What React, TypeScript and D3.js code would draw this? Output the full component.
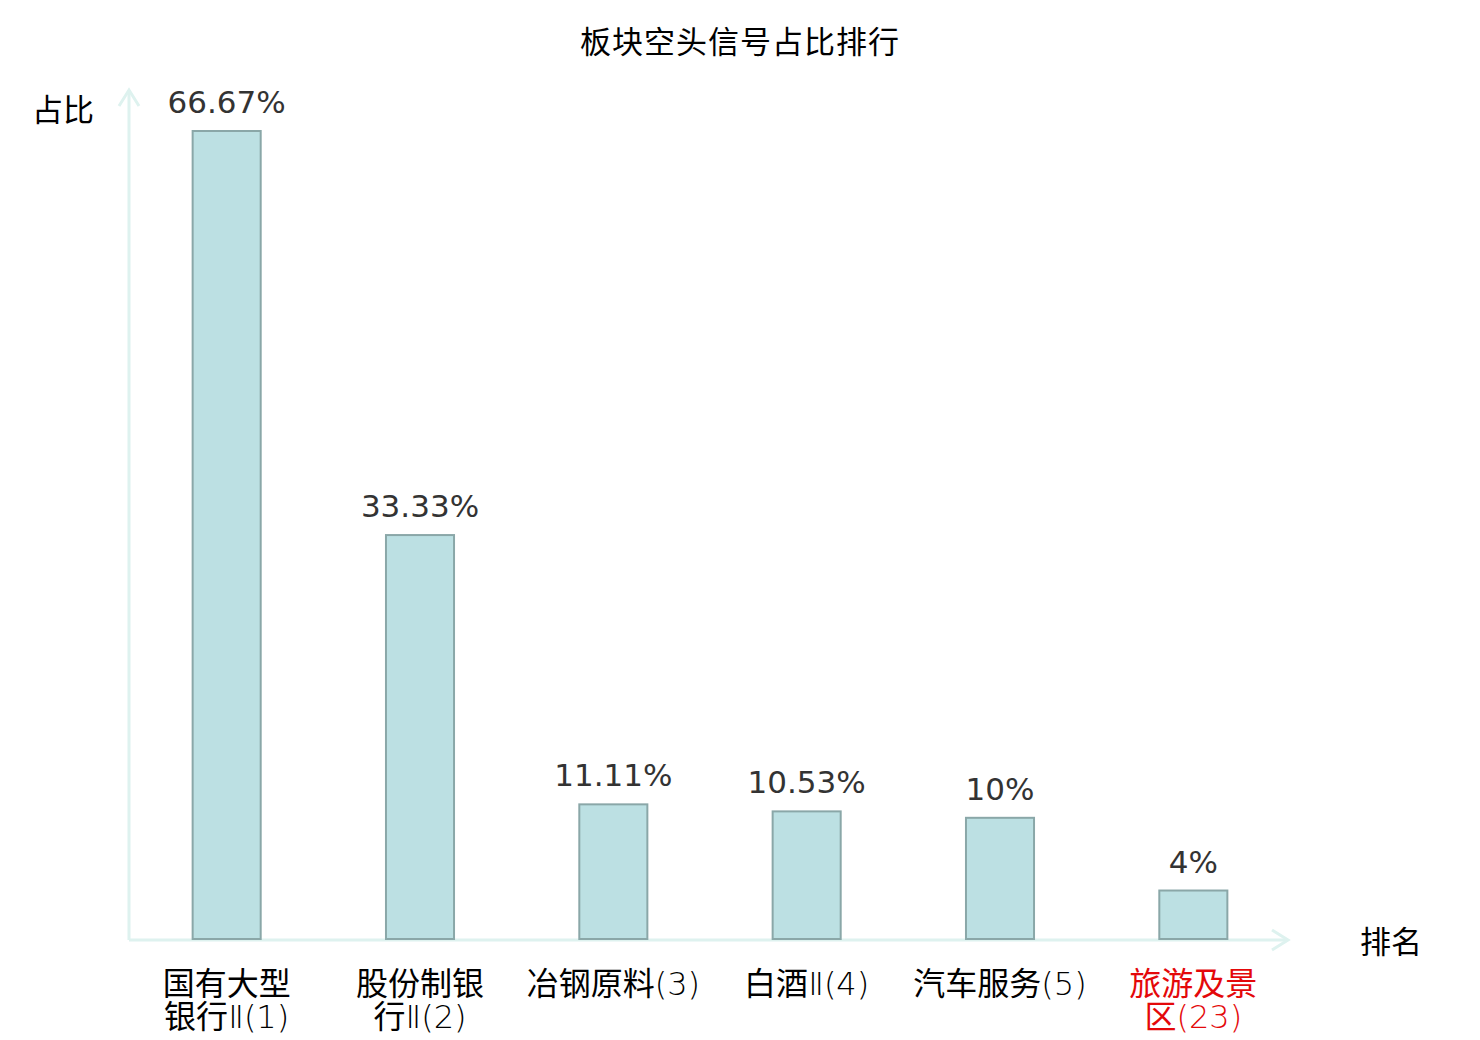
import React, { useEffect, useRef } from 'react';
import * as d3 from 'd3';

const categories = ['国有大型银行Ⅱ(1)', '股份制银行Ⅱ(2)', '冶钢原料(3)', '白酒Ⅱ(4)', '汽车服务(5)', '旅游及景区(23)'];
// category labels as they wrap onto lines
const labelLines = [
  ['国有大型', '银行Ⅱ(1)'],
  ['股份制银', '行Ⅱ(2)'],
  ['冶钢原料(3)'],
  ['白酒Ⅱ(4)'],
  ['汽车服务(5)'],
  ['旅游及景', '区(23)'],
];
const values = [66.67, 33.33, 11.11, 10.53, 10, 4];
const valueLabels = ['66.67%', '33.33%', '11.11%', '10.53%', '10%', '4%'];
const highlighted = ['旅游及景区(23)'];

// split a label into CJK and latin runs so each gets its own face
const splitRuns = (s: string) => s.match(/[\u4e00-\u9fff]+|[^\u4e00-\u9fff]+/g) || [];

const App: React.FC = () => {
  const ref = useRef<SVGSVGElement | null>(null);

  useEffect(() => {
    if (!ref.current) return;
    const svg = d3.select(ref.current);
    svg.selectAll('*').remove();

    const W = 1480, H = 1040;
    const x0 = 130, x1 = 1290, yBase = 939, yTop = 131;
    const cjk = "'Noto Sans CJK SC', sans-serif";

    const x = d3.scaleBand().domain(categories).range([x0, x1]).padding(0);
    const y = d3.scaleLinear().domain([0, d3.max(values) as number]).range([yBase, yTop]);
    const barW = x.bandwidth() * 0.352;

    svg.attr('width', W).attr('height', H);

    svg.append('text')
      .attr('x', 740).attr('y', 53)
      .attr('text-anchor', 'middle')
      .attr('font-family', cjk)
      .attr('font-size', 31)
      .attr('letter-spacing', 1)
      .attr('fill', '#000')
      .text('板块空头信号占比排行');

    // axes with open arrow heads
    const axisColor = '#def2ef';
    const axes = svg.append('g').attr('stroke', axisColor).attr('stroke-width', 3).attr('fill', 'none');
    axes.append('line').attr('x1', 129).attr('y1', 940).attr('x2', 129).attr('y2', 90);
    axes.append('path').attr('d', 'M119,106 L129,90 L139,106');
    axes.append('line').attr('x1', 129).attr('y1', 940).attr('x2', 1288).attr('y2', 940);
    axes.append('path').attr('d', 'M1272,930 L1288,940 L1272,950');

    svg.append('text')
      .attr('x', 63).attr('y', 121)
      .attr('text-anchor', 'middle')
      .attr('font-family', cjk).attr('font-size', 31)
      .text('占比');
    svg.append('text')
      .attr('x', 1391).attr('y', 953)
      .attr('text-anchor', 'middle')
      .attr('font-family', cjk).attr('font-size', 31)
      .text('排名');

    const bars = svg.append('g')
      .selectAll('g')
      .data(categories)
      .join('g');

    bars.append('rect')
      .attr('x', (d) => (x(d) as number) + x.bandwidth() / 2 - barW / 2)
      .attr('y', (d, i) => y(values[i]))
      .attr('width', barW)
      .attr('height', (d, i) => yBase - y(values[i]))
      .attr('fill', '#bce0e3')
      .attr('stroke', '#8aa7a8')
      .attr('stroke-width', 2);

    bars.append('text')
      .attr('x', (d) => (x(d) as number) + x.bandwidth() / 2)
      .attr('y', (d, i) => y(values[i]) - 18)
      .attr('text-anchor', 'middle')
      .attr('font-family', "'DejaVu Sans', sans-serif")
      .attr('font-size', 31)
      .attr('fill', '#333')
      .text((d, i) => valueLabels[i]);

    // one <text> per label line, with runs in separate tspans
    const lineData = categories.flatMap((c, i) =>
      labelLines[i].map((t, j) => ({ c, t, j, cx: (x(c) as number) + x.bandwidth() / 2 })));

    const lines = svg.append('g')
      .selectAll('text')
      .data(lineData)
      .join('text')
      .attr('x', (d) => d.cx)
      .attr('y', (d) => 995 + d.j * 33)
      .attr('text-anchor', 'middle')
      .attr('font-size', 32)
      .attr('fill', (d) => (highlighted.includes(d.c) ? '#e4080a' : '#000'));

    lines.selectAll('tspan')
      .data((d) => splitRuns(d.t))
      .join('tspan')
      .attr('font-family', (r) => (/[\u4e00-\u9fff]/.test(r) ? cjk : "'DejaVu Sans', sans-serif"))
      .attr('font-weight', (r) => (/[\u4e00-\u9fff]/.test(r) ? 400 : 200))
      .text((r) => r);
  }, []);

  return <svg ref={ref} style={{ display: 'block', position: 'absolute', left: 0, top: 0 }} />;
};

export default App;
